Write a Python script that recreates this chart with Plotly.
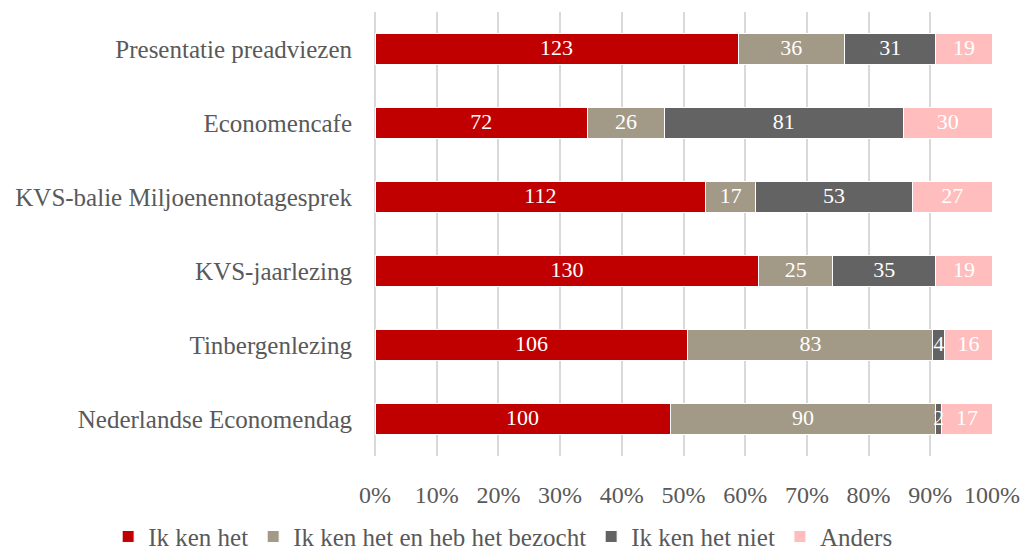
import plotly.graph_objects as go

categories = ["Presentatie preadviezen", "Economencafe", "KVS-balie Miljoenennotagesprek",
              "KVS-jaarlezing", "Tinbergenlezing", "Nederlandse Economendag"]
series_names = ["Ik ken het", "Ik ken het en heb het bezocht", "Ik ken het niet", "Anders"]
ik_ken_het = [123, 72, 112, 130, 106, 100]
bezocht = [36, 26, 17, 25, 83, 90]
niet = [31, 81, 53, 35, 4, 2]
anders = [19, 30, 27, 19, 16, 17]
colors = ["#C00000", "#A29A87", "#636363", "#FFBDBD"]
tick_vals = [0, 10, 20, 30, 40, 50, 60, 70, 80, 90, 100]
tick_text = [f"{v}%" for v in tick_vals]

FONT = "Liberation Serif"
series = [ik_ken_het, bezocht, niet, anders]
totals = [sum(s[i] for s in series) for i in range(len(categories))]

fig = go.Figure()
for name, vals, col in zip(series_names, series, colors):
    fig.add_trace(go.Bar(
        y=categories, x=vals, name=name, orientation="h",
        marker=dict(color=col, line=dict(color="white", width=1)),
        hoverinfo="x+y+name",
    ))

# data labels drawn on top (so small segments' labels are not covered)
lab_x, lab_y, lab_t = [], [], []
for i, cat in enumerate(categories):
    cum = 0.0
    for s in series:
        pct = s[i] / totals[i] * 100
        lab_x.append(cum + pct / 2)
        lab_y.append(cat)
        lab_t.append(str(s[i]))
        cum += pct
fig.add_trace(go.Scatter(
    x=lab_x, y=lab_y, text=lab_t, mode="text", showlegend=False,
    textfont=dict(color="white", size=22, family=FONT), hoverinfo="skip",
))

fig.update_layout(
    barmode="stack", barnorm="percent", bargap=0.59,
    width=1024, height=552,
    margin=dict(l=375, r=32, t=12, b=96, autoexpand=False),
    plot_bgcolor="white", paper_bgcolor="white",
    font=dict(family=FONT, size=24, color="#595959"),
    xaxis=dict(range=[0, 100], tickvals=tick_vals, ticktext=tick_text,
               showgrid=True, gridcolor="#D9D9D9", gridwidth=2,
               zeroline=True, zerolinecolor="#D9D9D9", zerolinewidth=2,
               showline=False, ticklabelstandoff=22, automargin=False,
               tickfont=dict(size=24, color="#595959", family=FONT), fixedrange=True),
    yaxis=dict(categoryorder="array", categoryarray=categories[::-1],
               showgrid=False, showline=False, ticklabelstandoff=22, automargin=False,
               tickfont=dict(size=25, color="#595959", family=FONT)),
    legend=dict(orientation="h", xref="paper", yref="paper",
                x=-0.4325, xanchor="left", y=-0.13, yanchor="top",
                font=dict(size=25, color="#595959", family=FONT),
                traceorder="normal", itemwidth=30),
    showlegend=True,
)
fig.write_html("out.html", config={"displayModeBar": False},
               post_script="document.body.style.margin='0px';document.body.style.overflow='hidden';")
